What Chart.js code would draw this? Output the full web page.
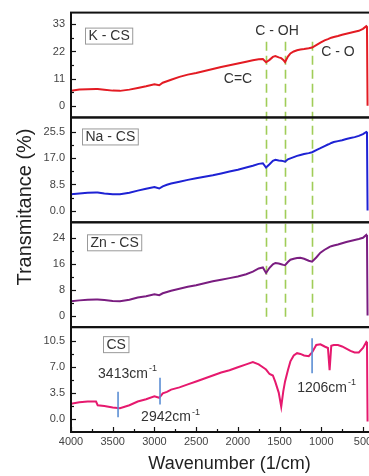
<!DOCTYPE html>
<html>
<head>
<meta charset="utf-8">
<title>FTIR spectra</title>
<script src="https://cdn.jsdelivr.net/npm/chart.js@4.4.1/dist/chart.umd.min.js"></script>
<style>
  html, body { margin: 0; padding: 0; background: #fff; overflow: hidden; }
  #wrap { width: 369px; height: 476px; overflow: hidden; }
</style>
</head>
<body>
<div id="wrap"><canvas id="ftir" width="392" height="476"></canvas></div>
<script>
const wavenumbers = [4000, 3900, 3800, 3700, 3680, 3600, 3500, 3413, 3300, 3200, 3100, 3000, 2942, 2900, 2850,
  2800, 2700, 2600, 2500, 2400, 2300, 2200, 2100, 2000, 1900, 1820, 1750, 1700, 1662, 1620, 1580, 1550, 1510,
  1480, 1455, 1434, 1400, 1370, 1330, 1290, 1250, 1206, 1150, 1110, 1060, 1010, 960, 920, 900, 880, 850, 800,
  750, 700, 650, 600, 550, 500, 460, 452, 445];

const kcs = [6.0, 6.6, 6.7, 6.8, 6.8, 6.5, 6.1, 6.0, 6.5, 7.2, 7.9, 8.7, 8.3, 9.3, 9.9,
  10.5, 11.7, 12.6, 13.3, 14.1, 14.9, 15.7, 16.4, 17.1, 17.8, 18.4, 18.8, 18.9, 17.6, 18.6, 19.8, 20.1, 19.6,
  19.3, 18.6, 17.7, 19.9, 21.2, 22.0, 22.5, 22.8, 23.0, 23.3, 23.6, 24.6, 25.6, 26.5, 27.0, 27.3, 27.6, 27.9, 28.3,
  28.8, 29.2, 29.6, 30.0, 30.4, 31.2, 32.3, 32.0, 0];

const nacs = [5.3, 5.6, 5.8, 5.9, 5.9, 5.6, 5.3, 5.3, 5.8, 6.5, 7.1, 7.7, 7.2, 7.9, 8.4,
  8.8, 9.4, 10.0, 10.5, 11.0, 11.5, 12.1, 12.7, 13.3, 14.0, 14.6, 15.2, 15.4, 14.0, 15.1, 16.2, 16.5, 16.3,
  16.2, 16.1, 15.9, 16.7, 17.0, 17.4, 17.8, 18.1, 18.4, 18.7, 19.0, 19.7, 20.3, 21.0, 21.5, 21.7, 22.0, 22.3, 22.6,
  22.9, 23.3, 23.6, 23.9, 24.3, 24.9, 25.6, 25.4, 0];

const zncs = [4.4, 4.7, 4.9, 5.0, 5.0, 4.8, 4.5, 4.4, 4.9, 5.6, 6.0, 6.6, 6.3, 6.9, 7.3,
  7.7, 8.3, 8.9, 9.4, 10.0, 10.6, 11.1, 11.6, 12.1, 12.8, 13.6, 14.6, 14.9, 13.2, 14.8, 15.9, 16.3, 16.1,
  15.9, 15.7, 15.6, 16.6, 17.3, 17.6, 17.8, 17.9, 17.6, 17.0, 16.7, 18.0, 19.5, 20.4, 21.0, 21.3, 21.5, 21.7, 22.0,
  22.4, 22.8, 23.1, 23.4, 23.7, 24.1, 25.0, 24.6, 0];

const cs = [2.1, 2.3, 2.4, 2.4, 1.9, 1.8, 1.6, 1.5, 1.9, 2.4, 2.7, 3.1, 2.9, 3.5, 3.7,
  4.0, 4.3, 4.7, 5.1, 5.5, 5.9, 6.3, 6.6, 7.0, 7.4, 7.7, 7.4, 7.0, 6.7, 6.1, 5.9, 5.0, 3.6,
  1.7, 3.8, 5.1, 6.6, 7.8, 8.6, 8.9, 8.8, 8.6, 8.5, 9.0, 10.0, 10.1, 9.8, 9.6, 6.6, 9.9, 10.0, 10.0,
  9.8, 9.5, 9.2, 9.0, 9.0, 9.6, 10.4, 10.3, -0.3];

const xTicks = [4000, 3500, 3000, 2500, 2000, 1500, 1000, 500];
const kTicks = [0, 11, 22, 33];
const naTicks = [0, 8.5, 17, 25.5];
const znTicks = [0, 8, 16, 24];
const csTicks = [0, 3.5, 7, 10.5];

const panelNames = ['K - CS', 'Na - CS', 'Zn - CS', 'CS'];
const bandNames = ['C=C', 'C - OH', 'C - O'];
const bandWavenumbers = [1662, 1434, 1110];
const peakNames = ['3413', '2942', '1206'];
const peakWavenumbers = [3436, 2933, 1110];

const FONT = "'Liberation Sans', Arial, sans-serif";

function panelAxis(ticks, min, max, digits, weight) {
  return {
    type: 'linear',
    position: 'left',
    stack: 'spectra',
    stackWeight: 1,
    weight: weight,
    min: min,
    max: max,
    grid: { display: false, drawTicks: false },
    border: { display: false },
    afterBuildTicks: s => { s.ticks = ticks.map(v => ({ value: v })); },
    afterFit: s => { s.width = 71; },
    ticks: {
      padding: 6,
      color: '#444',
      autoSkip: false,
      font: { family: FONT, size: 11 },
      callback: v => Number(v).toFixed(digits)
    }
  };
}

const series = [
  { label: panelNames[0], values: kcs, axis: 'yK', color: '#e31b23' },
  { label: panelNames[1], values: nacs, axis: 'yNa', color: '#1e22d4' },
  { label: panelNames[2], values: zncs, axis: 'yZn', color: '#7a1d80' },
  { label: panelNames[3], values: cs, axis: 'yCS', color: '#e6196e' }
];

// where the panel name boxes sit (offset from the panel's top-left corner)
const boxOffsets = [[14, 15], [11, 11], [16, 12], [32, 9]];
// band label anchors on the K - CS panel, in data units
const bandLabelAt = [[1998, 10.9], [1530, 30.2], [799, 21.7]];
// peak marker extents and label anchors on the CS panel, in data units
const peakMarkRange = [[0.3, 3.7], [2.0, 5.6], [6.2, 10.9]];
const peakLabelAt = [[3323, 6.1], [2807, 0.3], [936, 4.25]];

const decorations = {
  id: 'decorations',
  beforeDatasetsDraw(chart) {
    const { ctx, scales } = chart;
    const top = scales.yK.getPixelForValue(26);
    const bottom = scales.yZn.getPixelForValue(-0.5);
    ctx.save();
    ctx.strokeStyle = 'rgba(150, 200, 70, 0.9)';
    ctx.lineWidth = 1.6;
    ctx.setLineDash([9, 5]);
    bandWavenumbers.forEach(w => {
      const x = Math.round(scales.x.getPixelForValue(w)) + 0.5;
      ctx.beginPath();
      ctx.moveTo(x, top);
      ctx.lineTo(x, bottom);
      ctx.stroke();
    });
    ctx.restore();
  },
  afterDatasetsDraw(chart) {
    const { ctx, scales, chartArea } = chart;
    const axes = [['yK', kTicks], ['yNa', naTicks], ['yZn', znTicks], ['yCS', csTicks]];
    ctx.save();

    // peak markers on CS
    ctx.strokeStyle = '#5b8ed4';
    ctx.lineWidth = 1.6;
    peakWavenumbers.forEach((w, i) => {
      const x = scales.x.getPixelForValue(w);
      ctx.beginPath();
      ctx.moveTo(x, scales.yCS.getPixelForValue(peakMarkRange[i][0]));
      ctx.lineTo(x, scales.yCS.getPixelForValue(peakMarkRange[i][1]));
      ctx.stroke();
    });

    // inward tick marks
    ctx.strokeStyle = '#111';
    ctx.lineWidth = 1.2;
    axes.forEach(([id, ticks]) => {
      const s = scales[id];
      ticks.forEach((v, i) => {
        const y = Math.round(s.getPixelForValue(v)) + 0.5;
        ctx.beginPath();
        ctx.moveTo(chartArea.left, y);
        ctx.lineTo(chartArea.left + 5, y);
        ctx.stroke();
        if (i < ticks.length - 1) {
          const ym = Math.round(s.getPixelForValue((v + ticks[i + 1]) / 2)) + 0.5;
          ctx.beginPath();
          ctx.moveTo(chartArea.left, ym);
          ctx.lineTo(chartArea.left + 3, ym);
          ctx.stroke();
        }
      });
    });
    xTicks.forEach(v => {
      const x = Math.round(scales.x.getPixelForValue(v)) + 0.5;
      ctx.beginPath();
      ctx.moveTo(x, chartArea.bottom);
      ctx.lineTo(x, chartArea.bottom - 5);
      ctx.stroke();
      const xm = Math.round(scales.x.getPixelForValue(v - 250)) + 0.5;
      ctx.beginPath();
      ctx.moveTo(xm, chartArea.bottom);
      ctx.lineTo(xm, chartArea.bottom - 3);
      ctx.stroke();
    });

    // panel frames
    ctx.strokeStyle = '#111';
    ctx.lineWidth = 2;
    axes.forEach(([id]) => {
      const s = scales[id];
      ctx.strokeRect(chartArea.left, s.top, chartArea.right - chartArea.left, s.bottom - s.top);
    });
    ctx.restore();
  },
  afterDraw(chart) {
    const { ctx, scales, chartArea } = chart;
    const ids = ['yK', 'yNa', 'yZn', 'yCS'];
    ctx.save();

    // panel name boxes
    ctx.font = '14px ' + FONT;
    ctx.textBaseline = 'middle';
    ctx.textAlign = 'center';
    ids.forEach((id, i) => {
      const s = scales[id];
      const w = ctx.measureText(panelNames[i]).width + 6;
      const bx = chartArea.left + boxOffsets[i][0];
      const by = s.top + boxOffsets[i][1];
      ctx.fillStyle = '#fff';
      ctx.fillRect(bx, by, w, 16);
      ctx.strokeStyle = '#999';
      ctx.lineWidth = 1;
      ctx.strokeRect(bx + 0.5, by + 0.5, w, 16);
      ctx.fillStyle = '#333';
      ctx.fillText(panelNames[i], bx + w / 2 + 0.5, by + 9);
    });

    // band labels
    ctx.fillStyle = '#333';
    bandNames.forEach((t, i) => {
      ctx.fillText(t, scales.x.getPixelForValue(bandLabelAt[i][0]), scales.yK.getPixelForValue(bandLabelAt[i][1]));
    });

    // peak labels with superscript
    peakNames.forEach((t, i) => {
      const main = t + 'cm';
      ctx.font = '14px ' + FONT;
      const mw = ctx.measureText(main).width;
      ctx.font = '9px ' + FONT;
      const sw = ctx.measureText('-1').width;
      const cx = scales.x.getPixelForValue(peakLabelAt[i][0]);
      const cy = scales.yCS.getPixelForValue(peakLabelAt[i][1]);
      const x0 = cx - (mw + sw + 1) / 2;
      ctx.textAlign = 'left';
      ctx.fillStyle = '#333';
      ctx.font = '14px ' + FONT;
      ctx.fillText(main, x0, cy);
      ctx.font = '9px ' + FONT;
      ctx.fillText('-1', x0 + mw + 1, cy - 5);
    });

    // shared y title
    ctx.font = '20px ' + FONT;
    ctx.fillStyle = '#222';
    ctx.textAlign = 'center';
    ctx.translate(25, 207);
    ctx.rotate(-Math.PI / 2);
    ctx.fillText('Transmitance (%)', 0, 0);
    ctx.restore();
  }
};

const chart = new Chart(document.getElementById('ftir').getContext('2d'), {
  type: 'line',
  data: {
    datasets: series.map(s => ({
      label: s.label,
      data: wavenumbers.map((w, i) => ({ x: w, y: s.values[i] })),
      yAxisID: s.axis,
      borderColor: s.color,
      borderWidth: 2,
      pointRadius: 0,
      tension: 0,
      fill: false
    }))
  },
  options: {
    responsive: false,
    animation: false,
    layout: { padding: { top: 8, right: 4, bottom: 0, left: 0 } },
    plugins: {
      legend: { display: false },
      tooltip: { enabled: false }
    },
    scales: {
      x: {
        type: 'linear',
        position: 'bottom',
        reverse: true,
        min: 200,
        max: 4000,
        grid: { display: false, drawTicks: false },
        border: { display: false },
        afterBuildTicks: s => { s.ticks = xTicks.map(v => ({ value: v })); },
        afterFit: s => { s.height = 44; },
        ticks: {
          padding: 3,
          color: '#444',
          maxRotation: 0,
          autoSkip: false,
          font: { family: FONT, size: 11 },
          callback: v => String(v)
        },
        title: {
          display: true,
          text: 'Wavenumber (1/cm)',
          color: '#222',
          font: { family: FONT, size: 18 },
          padding: { top: 0, bottom: 1 }
        }
      },
      yK: panelAxis(kTicks, -4.8, 37.8, 0, 4),
      yNa: panelAxis(naTicks, -3.8, 30.3, 1, 3),
      yZn: panelAxis(znTicks, -3.6, 28.9, 0, 2),
      yCS: panelAxis(csTicks, -1.7, 12.4, 1, 1)
    }
  },
  plugins: [decorations]
});
</script>
</body>
</html>
